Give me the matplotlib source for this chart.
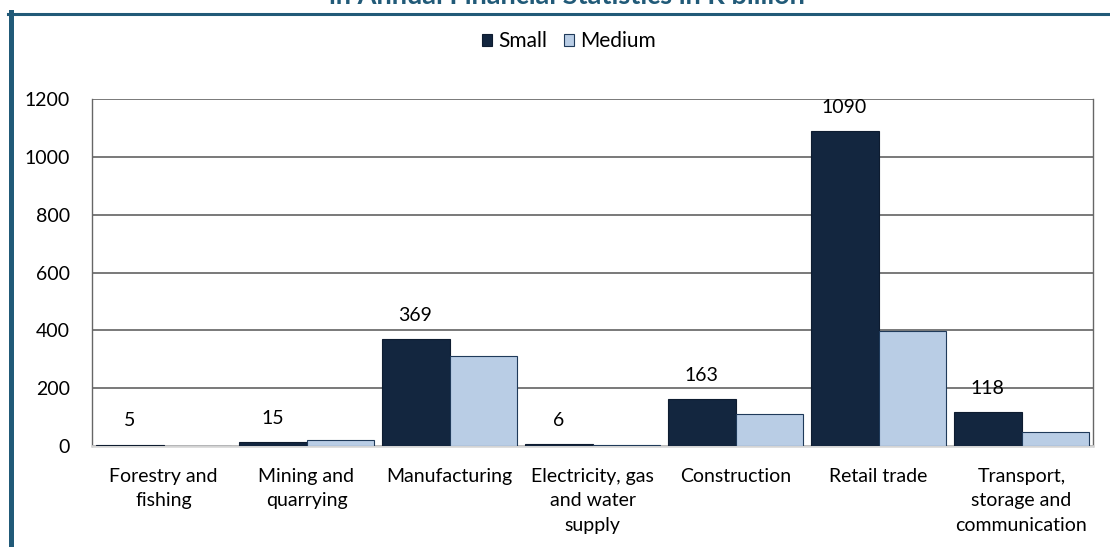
import numpy as np
import matplotlib
matplotlib.use("Agg")
import matplotlib.pyplot as plt
from matplotlib.lines import Line2D
from matplotlib.patches import Patch

plt.rcParams['font.family'] = ['Lato', 'DejaVu Sans']

categories = ["Forestry and\nfishing", "Mining and\nquarrying", "Manufacturing",
              "Electricity, gas\nand water\nsupply", "Construction", "Retail trade",
              "Transport,\nstorage and\ncommunication"]
small = [5, 15, 369, 6, 163, 1090, 118]
medium = [1, 21, 310, 4, 112, 397, 50]
yticks = [0, 200, 400, 600, 800, 1000, 1200]

dark = "#13263F"
light = "#B9CDE5"
frame = "#215A78"

W, H = 1110, 547
fig = plt.figure(figsize=(W / 100, H / 100), dpi=100)
ax = fig.add_axes([92 / W, 1 - 446 / H, 1001 / W, 347 / H])

x = np.arange(len(categories))
bw = 0.4755
ax.bar(x - bw / 2, small, bw, color=dark, edgecolor="#0E1C30", linewidth=0.8,
       label="Small", zorder=3)
ax.bar(x + bw / 2, medium, bw, color=light, edgecolor="#1F3A5A", linewidth=0.8,
       label="Medium", zorder=3)

# value labels on the small series only
for xi, v in zip(x - bw / 2, small):
    ax.annotate(str(v), (xi, v), xytext=(0, 17), textcoords="offset points",
                ha="center", va="center", fontsize=14, color="black", zorder=4)

ax.set_xlim(-0.5, len(categories) - 0.5)
ax.set_ylim(0, 1200)
ax.set_yticks(yticks)
ax.set_xticks(x)
ax.set_xticklabels(categories, fontsize=14, linespacing=1.55)
ax.tick_params(axis="both", length=0, labelsize=14)
ax.tick_params(axis="x", pad=15.5)
ax.tick_params(axis="y", pad=16)
ax.yaxis.grid(True, color="#555555", linewidth=1.1, zorder=0)

for s in ["left", "right", "top"]:
    ax.spines[s].set_color("#666666")
    ax.spines[s].set_linewidth(1.0)
ax.spines["top"].set_visible(False)
ax.spines["bottom"].set_color("#D4D4D4")
ax.spines["bottom"].set_linewidth(1.8)

handles = [Patch(facecolor=dark, edgecolor="#0E1C30", linewidth=0.8),
           Patch(facecolor=light, edgecolor="#1F3A5A", linewidth=0.8)]
fig.legend(handles, ["Small", "Medium"], loc="center", ncol=2,
           bbox_to_anchor=(569 / W, 1 - 41 / H), frameon=False, fontsize=15,
           handlelength=0.5, handleheight=0.5, handletextpad=0.3, columnspacing=0.8)

# title sits above the frame, mostly clipped by the figure edge
fig.text(567 / W, 1 + 4 / H, "in Annual Financial Statistics in R billion",
         ha="center", va="center", fontsize=19.5, fontweight="bold", color=frame)

fig.add_artist(Line2D([8 / W, 1], [1 - 13.5 / H] * 2, color=frame, linewidth=2.2,
                      transform=fig.transFigure))
fig.add_artist(Line2D([10.5 / W] * 2, [0, 1 - 12 / H], color=frame, linewidth=3.6,
                      transform=fig.transFigure))

fig.savefig("out.png", dpi=100)
